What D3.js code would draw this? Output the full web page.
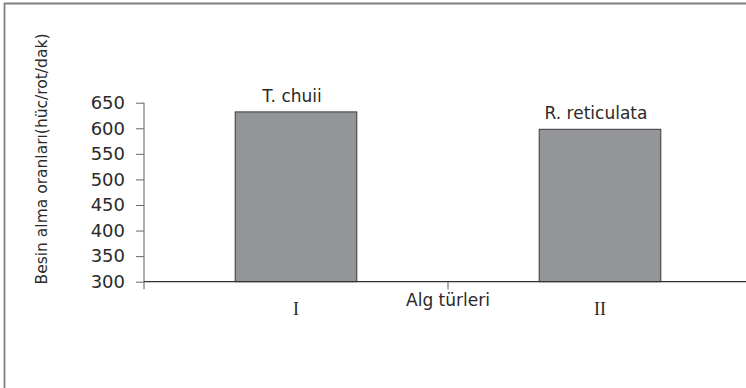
<!DOCTYPE html>
<html><head><meta charset="utf-8">
<script src="https://cdn.jsdelivr.net/npm/d3@7"></script>
<style>
html,body{margin:0;padding:0;background:#fff;overflow:hidden;}
svg{display:block;}
text{font-family:"DejaVu Sans",Verdana,sans-serif;fill:#2a2a2a;}
</style></head>
<body>
<script>
const categories = ["I", "II"];
const species = ["T. chuii", "R. reticulata"];
const values = [632, 598];
const yTicks = [300, 350, 400, 450, 500, 550, 600, 650];
const yTitle = "Besin alma oranları(hüc/rot/dak)";
const xTitle = "Alg türleri";

const W = 746, H = 388;
const svg = d3.select("body").append("svg").attr("width", W).attr("height", H);

// frame (left + top)
svg.append("line").attr("x1", 4.5).attr("x2", 4.5).attr("y1", 3).attr("y2", H)
  .attr("stroke", "#808080").attr("stroke-width", 1.8);
svg.append("line").attr("x1", 4).attr("x2", W).attr("y1", 3.5).attr("y2", 3.5)
  .attr("stroke", "#808080").attr("stroke-width", 1.8);

const x0 = 144, x1 = 752, yBottom = 281.7, yTop = 102.7;
const x = d3.scaleBand().domain(categories).range([x0, x1]).padding(0);
const y = d3.scaleLinear().domain([300, 650]).range([yBottom, yTop]);

// bars
const bw = x.bandwidth() * 0.4;
svg.selectAll("rect.bar").data(categories).enter().append("rect")
  .attr("class", "bar")
  .attr("x", (d) => x(d) + x.bandwidth() / 2 - bw / 2)
  .attr("y", (d, i) => y(values[i]))
  .attr("width", bw)
  .attr("height", (d, i) => y(300) - y(values[i]))
  .attr("fill", "#939598").attr("stroke", "#3a3a3a").attr("stroke-width", 1);

// species labels
svg.selectAll("text.sp").data(categories).enter().append("text")
  .attr("class", "sp")
  .attr("x", (d) => x(d) + x.bandwidth() / 2 - 4)
  .attr("y", (d, i) => y(values[i]) - 10)
  .attr("text-anchor", "middle").style("font-size", "17px")
  .text((d, i) => species[i]);

// y axis
const yAxis = d3.axisLeft(y).tickValues(yTicks).tickSize(8).tickPadding(11);
const gy = svg.append("g").attr("transform", `translate(${x0},0)`).call(yAxis);
gy.select(".domain").remove();
gy.selectAll(".tick line").attr("stroke", "#666");
gy.selectAll(".tick text").style("font-size", "18px").attr("fill", "#2a2a2a")
  .style("font-family", "'DejaVu Sans',Verdana,sans-serif");
svg.append("line").attr("x1", x0).attr("x2", x0).attr("y1", yTop).attr("y2", yBottom + 7.5)
  .attr("stroke", "#777").attr("stroke-width", 1.2);

// x axis line
svg.append("line").attr("x1", x0).attr("x2", W).attr("y1", yBottom).attr("y2", yBottom)
  .attr("stroke", "#333").attr("stroke-width", 1.3);
// category boundary ticks
const bounds = [x("II")];
svg.selectAll("line.bt").data(bounds).enter().append("line")
  .attr("x1", (d) => d).attr("x2", (d) => d)
  .attr("y1", yBottom).attr("y2", yBottom + 7.5)
  .attr("stroke", "#777").attr("stroke-width", 1.2);

// category labels (serif)
svg.selectAll("text.cat").data(categories).enter().append("text")
  .attr("class", "cat")
  .attr("x", (d) => x(d) + x.bandwidth() / 2)
  .attr("y", 315)
  .attr("text-anchor", "middle")
  .style("font-family", "'Liberation Serif','Times New Roman',serif")
  .style("font-size", "18px")
  .text((d) => d);

// x title
svg.append("text").attr("x", x("II")).attr("y", 306)
  .attr("text-anchor", "middle").style("font-size", "17px").text(xTitle);

// y title
svg.append("text").attr("transform", "translate(47,159) rotate(-90)")
  .attr("text-anchor", "middle").style("font-size", "15.5px").text(yTitle);
</script>
</body></html>
